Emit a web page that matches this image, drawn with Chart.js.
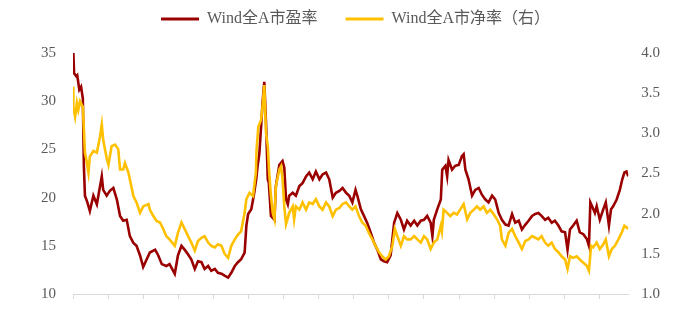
<!DOCTYPE html>
<html>
<head>
<meta charset="utf-8">
<script src="https://cdn.jsdelivr.net/npm/chart.js@4/dist/chart.umd.min.js"></script>
<style>
  html, body { margin: 0; padding: 0; background: #fff; }
</style>
</head>
<body>
<canvas id="valChart" width="690" height="320"></canvas>
<script>
// Wind全A 市盈率 (left axis), decimal years
const peYears = [
  2010.01, 2010.03, 2010.09, 2010.12, 2010.18, 2010.23, 2010.28, 2010.31, 2010.34, 2010.41, 2010.48, 2010.58, 2010.68, 2010.82, 2010.86, 2010.96,
  2011.05, 2011.15, 2011.25, 2011.34, 2011.43, 2011.53, 2011.62, 2011.72, 2011.81, 2011.91, 2012.00, 2012.10, 2012.19, 2012.34, 2012.43, 2012.53,
  2012.66, 2012.75, 2012.90, 2012.99, 2013.09, 2013.18, 2013.28, 2013.37, 2013.47, 2013.56, 2013.66, 2013.75, 2013.85, 2013.94,
  2014.04, 2014.13, 2014.23, 2014.32, 2014.42, 2014.51, 2014.61, 2014.70, 2014.79, 2014.89, 2014.94, 2014.99, 2015.08, 2015.15, 2015.22,
  2015.26, 2015.31, 2015.36, 2015.40, 2015.45, 2015.50, 2015.55, 2015.58, 2015.64, 2015.74, 2015.78, 2015.88, 2015.97,
  2016.02, 2016.07, 2016.12, 2016.16, 2016.26, 2016.35, 2016.45, 2016.54, 2016.64, 2016.73, 2016.83, 2016.92,
  2017.02, 2017.11, 2017.21, 2017.30, 2017.40, 2017.49, 2017.59, 2017.68, 2017.78, 2017.87,
  2017.96, 2018.05, 2018.10, 2018.20, 2018.29, 2018.38, 2018.48, 2018.58, 2018.67, 2018.77, 2018.86, 2018.95,
  2019.05, 2019.10, 2019.15, 2019.24, 2019.34, 2019.43, 2019.52, 2019.62, 2019.72, 2019.81, 2019.91,
  2020.00, 2020.09, 2020.19, 2020.24, 2020.28, 2020.38, 2020.48, 2020.52,
  2020.61, 2020.66, 2020.70, 2020.80, 2020.89, 2020.99, 2021.08, 2021.13, 2021.18, 2021.27, 2021.37, 2021.46, 2021.56, 2021.65, 2021.75, 2021.84, 2021.94,
  2022.03, 2022.13, 2022.22, 2022.32, 2022.41, 2022.51, 2022.60, 2022.70, 2022.79, 2022.89, 2022.98, 2023.08, 2023.17,
  2023.26, 2023.35, 2023.45, 2023.54, 2023.64, 2023.73, 2023.83, 2023.92,
  2024.02, 2024.09, 2024.16, 2024.25, 2024.35, 2024.44, 2024.54, 2024.64, 2024.70, 2024.74, 2024.79, 2024.87, 2024.92,
  2025.01, 2025.11, 2025.18, 2025.27, 2025.33, 2025.39, 2025.49, 2025.58, 2025.65, 2025.71, 2025.77, 2025.82
];
const peValues = [
  35.1, 32.9, 32.6, 32.7, 31.2, 31.5, 30.3, 23.3, 20.2, 19.5, 18.6, 20.2, 19.3, 22.2, 20.8, 20.2,
  20.7, 21.0, 19.8, 18.1, 17.6, 17.7, 16.0, 15.3, 15.0, 14.0, 12.8, 13.6, 14.3, 14.6, 14.0, 13.1,
  12.9, 13.1, 12.1, 14.0, 15.0, 14.6, 14.1, 13.6, 12.6, 13.4, 13.3, 12.6, 12.9, 12.4,
  12.6, 12.2, 12.1, 11.9, 11.7, 12.2, 12.9, 13.3, 13.6, 14.3, 17.1, 18.3, 18.8, 20.2, 21.9,
  23.3, 24.6, 27.4, 29.8, 32.0, 27.7, 21.9, 21.5, 18.1, 17.7, 21.2, 23.4, 23.8,
  23.1, 19.8, 19.3, 20.2, 20.5, 20.2, 21.2, 21.5, 22.2, 22.6, 21.9, 22.7,
  21.9, 22.4, 22.6, 21.9, 20.0, 20.5, 20.7, 21.0, 20.5, 20.2,
  19.5, 20.8, 20.2, 18.8, 18.1, 17.4, 16.4, 15.3, 14.6, 13.6, 13.4, 13.3,
  14.0, 15.7, 17.4, 18.4, 17.7, 16.7, 17.6, 17.1, 17.6, 17.1, 17.6,
  17.7, 18.1, 17.4, 16.0, 17.7, 18.8, 19.8, 22.9,
  23.3, 22.2, 23.9, 22.9, 23.3, 23.4, 24.3, 24.5, 22.9, 21.9, 20.2, 20.8, 21.0, 20.3, 19.8, 19.5, 20.2,
  19.8, 18.4, 17.7, 17.2, 17.1, 18.3, 17.4, 17.6, 16.7, 17.2, 17.6, 18.1, 18.3,
  18.4, 18.1, 17.7, 17.9, 17.4, 17.6, 17.1, 16.5,
  16.4, 14.6, 16.7, 17.1, 17.6, 16.4, 16.2, 15.7, 15.0, 19.5, 19.1, 18.4, 19.1,
  17.7, 18.8, 19.5, 17.1, 18.8, 19.1, 19.8, 20.8, 21.9, 22.6, 22.7, 22.2
];

// Wind全A 市净率 (right axis)
const pbYears = [
  2010.00, 2010.01, 2010.06, 2010.11, 2010.15, 2010.20, 2010.28, 2010.31, 2010.34, 2010.39, 2010.44, 2010.48, 2010.58, 2010.68, 2010.77, 2010.82, 2010.86, 2010.96,
  2011.01, 2011.10, 2011.20, 2011.29, 2011.34, 2011.43, 2011.48, 2011.58, 2011.72, 2011.81, 2011.91, 2012.00, 2012.15, 2012.19, 2012.29, 2012.38, 2012.48, 2012.57,
  2012.66, 2012.75, 2012.90, 2012.99, 2013.09, 2013.18, 2013.28, 2013.37, 2013.47, 2013.56, 2013.66, 2013.75, 2013.85, 2013.94,
  2014.04, 2014.13, 2014.23, 2014.32, 2014.42, 2014.51, 2014.61, 2014.70, 2014.79, 2014.89, 2014.94, 2015.03, 2015.13, 2015.21, 2015.23, 2015.28,
  2015.36, 2015.40, 2015.45, 2015.50, 2015.55, 2015.59, 2015.64, 2015.69, 2015.74, 2015.78, 2015.88, 2015.93, 2015.97,
  2016.02, 2016.07, 2016.16, 2016.26, 2016.30, 2016.35, 2016.45, 2016.54, 2016.64, 2016.73, 2016.83, 2016.92,
  2017.02, 2017.11, 2017.21, 2017.30, 2017.40, 2017.49, 2017.59, 2017.68, 2017.78, 2017.87,
  2017.96, 2018.05, 2018.15, 2018.24, 2018.34, 2018.43, 2018.53, 2018.62, 2018.72, 2018.81, 2018.91,
  2019.00, 2019.10, 2019.17, 2019.24, 2019.34, 2019.43, 2019.52, 2019.62, 2019.72, 2019.81, 2019.91,
  2020.00, 2020.09, 2020.19, 2020.28, 2020.38, 2020.48, 2020.51, 2020.56,
  2020.66, 2020.75, 2020.85, 2020.94, 2021.03, 2021.13, 2021.23, 2021.32, 2021.42, 2021.51, 2021.60, 2021.70, 2021.79, 2021.89, 2021.99,
  2022.08, 2022.17, 2022.22, 2022.32, 2022.41, 2022.51, 2022.60, 2022.70, 2022.79, 2022.89, 2022.98, 2023.08, 2023.17,
  2023.26, 2023.35, 2023.45, 2023.54, 2023.64, 2023.73, 2023.83, 2023.92,
  2024.02, 2024.09, 2024.16, 2024.25, 2024.35, 2024.44, 2024.54, 2024.64, 2024.70, 2024.76, 2024.82, 2024.92,
  2025.01, 2025.11, 2025.18, 2025.27, 2025.35, 2025.44, 2025.54, 2025.63, 2025.71, 2025.77, 2025.82
];
const pbValues = [
  3.58, 3.33, 3.21, 3.38, 3.29, 3.40, 3.33, 3.05, 2.76, 2.65, 2.51, 2.71, 2.78, 2.76, 2.96, 3.11, 2.92, 2.69,
  2.61, 2.84, 2.86, 2.80, 2.55, 2.55, 2.63, 2.51, 2.22, 2.14, 2.01, 2.09, 2.12, 2.05, 1.97, 1.91, 1.89, 1.81,
  1.72, 1.68, 1.60, 1.76, 1.89, 1.81, 1.72, 1.64, 1.54, 1.66, 1.70, 1.72, 1.64, 1.60,
  1.58, 1.62, 1.60, 1.50, 1.45, 1.60, 1.68, 1.74, 1.78, 2.01, 2.18, 2.26, 2.22, 2.51, 2.80, 3.08,
  3.17, 3.33, 3.60, 3.00, 2.84, 2.51, 2.22, 2.01, 1.93, 2.34, 2.55, 2.59, 2.43,
  2.09, 1.87, 2.01, 2.09, 1.93, 2.09, 2.05, 2.14, 2.05, 2.14, 2.12, 2.18,
  2.09, 2.05, 2.14, 2.09, 1.97, 2.05, 2.07, 2.12, 2.14, 2.09,
  2.05, 2.09, 1.97, 1.89, 1.85, 1.76, 1.68, 1.60, 1.52, 1.47, 1.43,
  1.47, 1.60, 1.81, 1.72, 1.60, 1.72, 1.68, 1.68, 1.72, 1.68, 1.64,
  1.72, 1.68, 1.56, 1.64, 1.68, 1.85, 1.78, 2.05,
  2.01, 1.97, 2.01, 1.99, 2.05, 2.12, 1.93, 2.01, 2.05, 2.09, 2.05, 2.09, 2.01, 2.05, 1.99,
  1.93, 1.85, 1.68, 1.60, 1.76, 1.81, 1.72, 1.64, 1.56, 1.66, 1.68, 1.72, 1.70,
  1.68, 1.72, 1.64, 1.60, 1.64, 1.56, 1.52, 1.47,
  1.43, 1.31, 1.47, 1.45, 1.47, 1.43, 1.39, 1.35, 1.29, 1.60, 1.58, 1.64,
  1.56, 1.62, 1.68, 1.47, 1.56, 1.60, 1.68, 1.76, 1.85, 1.83, 1.81
];

const xTicks = [2010, 2011, 2012, 2013, 2014, 2015, 2016, 2017, 2018, 2019, 2020, 2021, 2022, 2023, 2024, 2025];
const peTicks = [10, 15, 20, 25, 30, 35];
const pbTicks = [1.0, 1.5, 2.0, 2.5, 3.0, 3.5, 4.0];

const FONT = "'Liberation Serif', 'Noto Sans CJK SC', serif";
const TEXT = '#595959';
const RED = '#9A0000';
const GOLD = '#FFC000';

// legend sits high and a little right of centre, chart area starts lower
const legendTweak = {
    id: 'legendTweak',
    beforeInit(chart) {
        const legend = chart.legend;
        const fit = legend.fit;
        legend.fit = function () {
            fit.bind(legend)();
            this.height = 68;
        };
        const draw = legend.draw;
        legend.draw = function () {
            const ctx = chart.ctx;
            ctx.save();
            ctx.translate(7, -2);
            draw.bind(legend)();
            ctx.restore();
        };
    }
};

const valChart = new Chart(document.getElementById('valChart'), {
    type: 'line',
    data: {
        datasets: [{
            label: 'Wind全A市盈率',
            data: peYears.map((x, i) => ({ x: x, y: peValues[i] })),
            yAxisID: 'yPE',
            borderColor: RED,
            backgroundColor: RED,
            borderWidth: 2.6,
            pointRadius: 0,
            order: 2
        }, {
            label: 'Wind全A市净率（右）',
            data: pbYears.map((x, i) => ({ x: x, y: pbValues[i] })),
            yAxisID: 'yPB',
            borderColor: GOLD,
            backgroundColor: GOLD,
            borderWidth: 2.6,
            pointRadius: 0,
            order: 1
        }]
    },
    options: {
        responsive: false,
        devicePixelRatio: 1,
        animation: false,
        layout: { padding: { top: -15, left: 24, right: 17, bottom: 14 } },
        scales: {
            x: {
                type: 'linear',
                min: 2010,
                max: 2025.82,
                afterBuildTicks: s => { s.ticks = xTicks.map(v => ({ value: v })); },
                ticks: { display: false },
                grid: { drawOnChartArea: false, drawTicks: true, tickLength: 5, color: '#d9d9d9' },
                border: { display: true, color: '#d9d9d9', width: 1 }
            },
            yPE: {
                position: 'left',
                min: 10,
                max: 35,
                afterBuildTicks: s => { s.ticks = peTicks.map(v => ({ value: v })); },
                grid: { display: false, drawTicks: false },
                border: { display: false },
                ticks: { color: TEXT, font: { family: FONT, size: 15 }, padding: 17 }
            },
            yPB: {
                position: 'right',
                min: 1,
                max: 4,
                afterBuildTicks: s => { s.ticks = pbTicks.map(v => ({ value: v })); },
                grid: { display: false, drawTicks: false },
                border: { display: false },
                ticks: {
                    color: TEXT, font: { family: FONT, size: 15 }, padding: 13,
                    callback: v => v.toFixed(1)
                }
            }
        },
        plugins: {
            tooltip: { enabled: false },
            legend: {
                position: 'top',
                labels: {
                    boxWidth: 38,
                    boxHeight: 3,
                    padding: 28,
                    color: TEXT,
                    font: { family: FONT, size: 16 },
                    sort: (a, b) => a.datasetIndex - b.datasetIndex,
                    generateLabels: chart =>
                        Chart.defaults.plugins.legend.labels.generateLabels(chart)
                            .map(item => Object.assign(item, { lineWidth: 0 }))
                }
            }
        }
    },
    plugins: [legendTweak]
});
</script>
</body>
</html>
